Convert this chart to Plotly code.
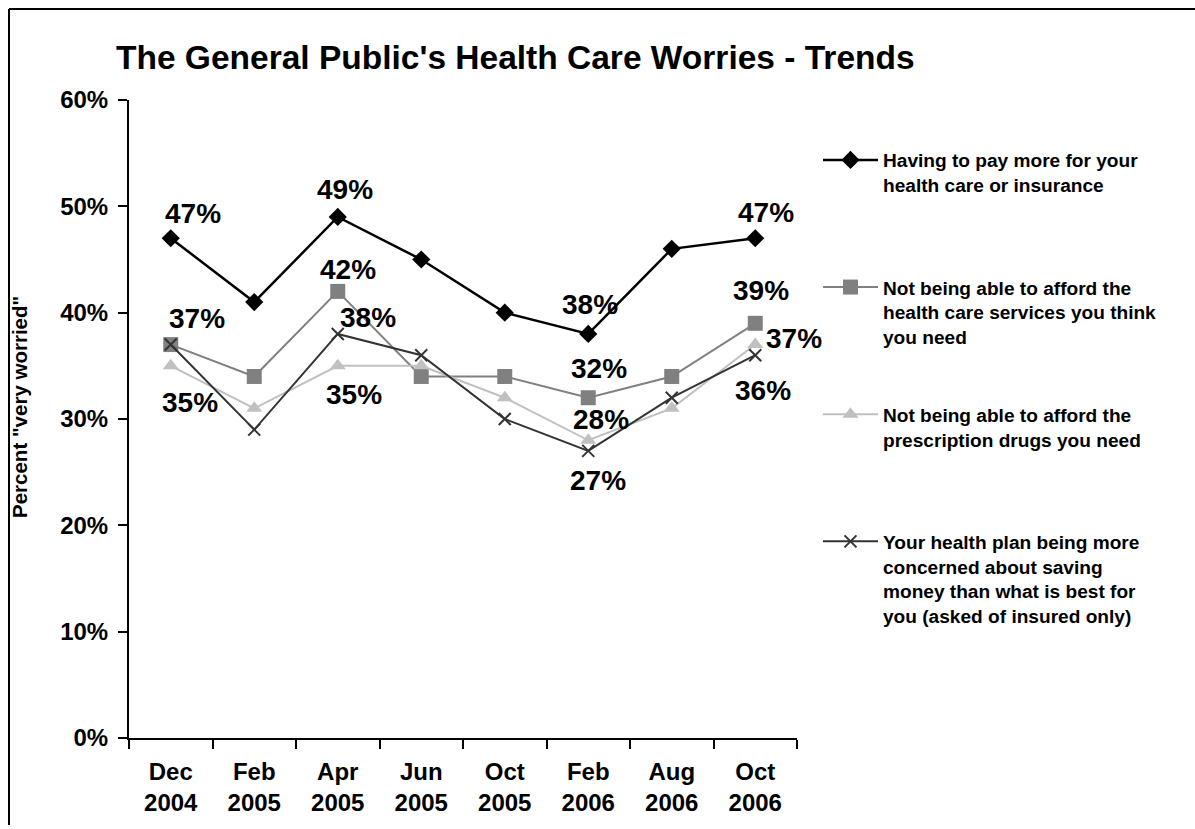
import plotly.graph_objects as go

categories = ["Dec<br>2004", "Feb<br>2005", "Apr<br>2005", "Jun<br>2005",
              "Oct<br>2005", "Feb<br>2006", "Aug<br>2006", "Oct<br>2006"]

pay_more = [47, 41, 49, 45, 40, 38, 46, 47]
afford_services = [37, 34, 42, 34, 34, 32, 34, 39]
afford_drugs = [35, 31, 35, 35, 32, 28, 31, 37]
plan_saving = [37, 29, 38, 36, 30, 27, 32, 36]

series_names = [
    "Having to pay more for your<br>health care or insurance",
    "Not being able to afford the<br>health care services you think<br>you need",
    "Not being able to afford the<br>prescription drugs you need",
    "Your health plan being more<br>concerned about saving<br>money than what is best for<br>you (asked of insured only)",
]

y_ticks = [0, 10, 20, 30, 40, 50, 60]

# which points carry a value label (series index, point index) and label offset in px
label_points = [
    (0, 0, 22, -25), (0, 2, 7, -27), (0, 5, 2, -29), (0, 7, 11, -26),
    (1, 0, 26, -26), (1, 2, 10, -22), (1, 5, 11, -29), (1, 7, 6, -33),
    (2, 0, 19, 37), (2, 2, 16, 29), (2, 5, 13, -21), (2, 7, 39, -6),
    (3, 2, 30, -16), (3, 5, 10, 30), (3, 7, 8, 35),
]

all_series = [pay_more, afford_services, afford_drugs, plan_saving]
styles = [
    dict(color="#000000", symbol="diamond", size=14, lw=2.5, mlw=0),
    dict(color="#808080", symbol="square", size=15, lw=2, mlw=0),
    dict(color="#c0c0c0", symbol="triangle-up", size=14, lw=2, mlw=0),
    dict(color="#333333", symbol="x-thin", size=12, lw=2, mlw=2),
]
pad_lines = [3, 2, 3, 1]

FONT = "Liberation Sans, Arial, sans-serif"

W, H = 1195, 825
L, T = 129, 100
R = W - 797
B = H - 738
pw, ph = W - L - R, H - T - B

fig = go.Figure()
for i, (vals, st) in enumerate(zip(all_series, styles)):
    name = series_names[i] + "<br> " * pad_lines[i]
    fig.add_trace(go.Scatter(
        x=categories, y=vals, name=name, mode="lines+markers",
        line=dict(color=st["color"], width=st["lw"]),
        marker=dict(symbol=st["symbol"], size=st["size"], color=st["color"],
                    line=dict(color=st["color"], width=st["mlw"])),
        legendgroup=f"g{i}",
    ))

for s, p, dx, dy in label_points:
    v = all_series[s][p]
    fig.add_annotation(x=categories[p], y=v, xref="x", yref="y",
                       text=f"<b>{v}%</b>", showarrow=False,
                       xshift=dx, yshift=-dy,
                       font=dict(family=FONT, size=28, color="#000000"))

# outer frame (left and top edges visible; right/bottom run off the page)
fx0 = (9 - L) / pw
fy1 = (738 - 9) / ph
fig.add_shape(type="line", xref="paper", yref="paper",
              x0=fx0, x1=fx0, y0=-(B + 10) / ph, y1=fy1,
              line=dict(color="#000000", width=2))
fig.add_shape(type="line", xref="paper", yref="paper",
              x0=fx0, x1=(W + 10 - L) / pw, y0=fy1, y1=fy1,
              line=dict(color="#000000", width=2))

fig.add_annotation(x=(19 - L) / pw, y=(738 - 407) / ph, xref="paper", yref="paper",
                   xanchor="center", yanchor="middle",
                   text="<b>Percent \"very worried\"</b>", textangle=-90,
                   showarrow=False, font=dict(family=FONT, size=20.5, color="#000000"))

fig.update_layout(
    width=W, height=H,
    margin=dict(l=L, r=R, t=T, b=B),
    paper_bgcolor="white", plot_bgcolor="white",
    title=dict(text="<b>The General Public's Health Care Worries - Trends</b>",
               x=116 / W, xanchor="left", y=1 - 57 / H, yanchor="middle",
               font=dict(family=FONT, size=33.5, color="#000000")),
    legend=dict(x=(818 - L) / pw, xanchor="left", y=(738 - 141) / ph, yanchor="top",
                font=dict(family=FONT, size=19.1, color="#000000", weight="bold"),
                valign="top", itemwidth=55, tracegroupgap=0,
                bgcolor="rgba(0,0,0,0)", itemclick=False),
    xaxis=dict(type="category", range=[-0.5, 7.5], tickson="boundaries",
               showline=True, linecolor="#000000", linewidth=2,
               ticks="outside", ticklen=9, tickwidth=2, tickcolor="#000000",
               showgrid=False, zeroline=False, ticklabelstandoff=11, automargin=False,
               tickfont=dict(family=FONT, size=24, color="#000000", weight="bold")),
    yaxis=dict(range=[0, 60], tickvals=y_ticks, ticktext=[f"{t}%" for t in y_ticks],
               showline=True, linecolor="#000000", linewidth=2,
               ticks="outside", ticklen=9, tickwidth=2, tickcolor="#000000",
               showgrid=False, zeroline=False, ticklabelstandoff=5, automargin=False,
               tickfont=dict(family=FONT, size=24, color="#000000", weight="bold")),
)

fig.write_html(
    "out.html",
    config={"displayModeBar": False},
    post_script=("document.documentElement.style.overflow='hidden';"
                 "document.body.style.margin='0';document.body.style.overflow='hidden';"),
)
